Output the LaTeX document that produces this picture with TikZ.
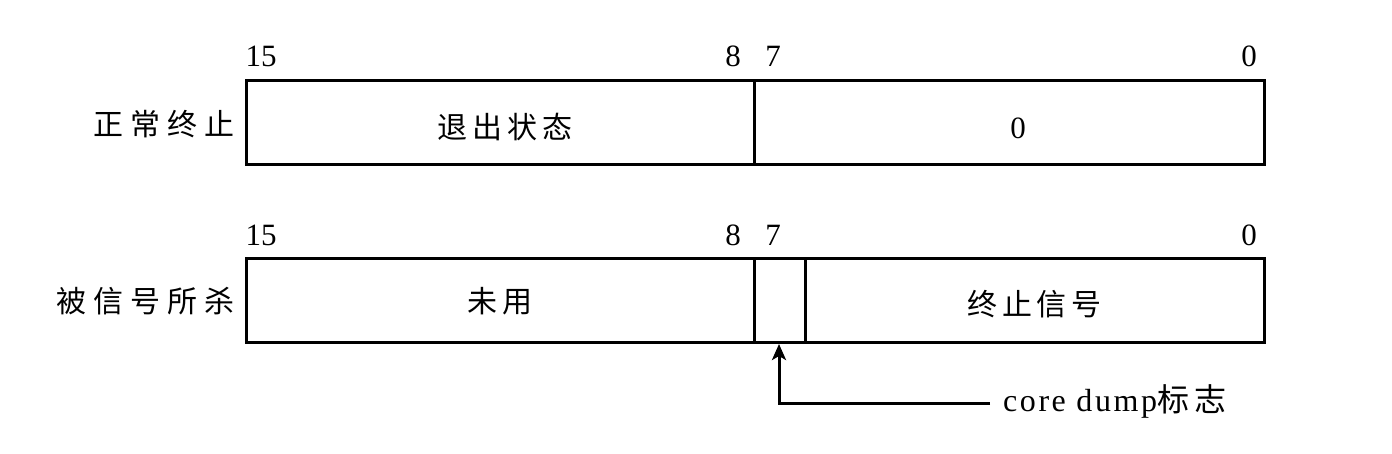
\documentclass[tikz,border=0pt]{standalone}
\usepackage{fontspec}
\setmainfont{Liberation Serif}
\newfontfamily\cjk[LetterSpace=16]{Noto Sans CJK SC}
\newfontfamily\cjkwide[LetterSpace=24]{Noto Sans CJK SC}
\newfontfamily\latwide[LetterSpace=8]{Liberation Serif}
\usetikzlibrary{arrows.meta}
\begin{document}
\begin{tikzpicture}[x=1pt,y=-1pt,
  field/.style={draw,line width=3pt,minimum height=84pt,inner sep=0pt,outer sep=0pt,anchor=north west},
  bitlabel/.style={font=\fontsize{31}{31}\selectfont,inner sep=0pt},
  rowlabel/.style={font=\cjkwide\fontsize{30}{30}\selectfont,inner sep=0pt,anchor=east},
  fieldtext/.style={font=\cjk\fontsize{30}{30}\selectfont,inner sep=0pt},
  conn/.style={line width=3pt}]
\useasboundingbox (0,0) rectangle (1392,453);
% top row
\node[field,minimum width=508pt] (exit) at (246,80) {};
\node[field,minimum width=510pt] (zero) at (754,80) {};
\node[fieldtext,yshift=-5pt,xshift=5pt] at (exit.center) {退出状态};
\node[bitlabel] at (1018,128) {0};
\node[rowlabel] (normal) at (235,124) {正常终止};
\node[bitlabel] (t15) at (261,56) {15};
\node[bitlabel] (t8) at (733,56) {8};
\node[bitlabel] (t7) at (773,56) {7};
\node[bitlabel] (t0) at (1249,56) {0};
% bottom row
\node[field,minimum width=508pt] (unused) at (246,258) {};
\node[field,minimum width=51pt] (core) at (754,258) {};
\node[field,minimum width=459pt] (sig) at (805,258) {};
\node[fieldtext,yshift=-1pt] at (unused.center) {未用};
\node[fieldtext,yshift=-4pt] at (sig.center) {终止信号};
\node[rowlabel] (killed) at (235,301) {被信号所杀};
\node[bitlabel] (b15) at (261,235) {15};
\node[bitlabel] (b8) at (733,235) {8};
\node[bitlabel] (b7) at (773,235) {7};
\node[bitlabel] (b0) at (1249,235) {0};
% core dump annotation
\node[font=\latwide\fontsize{32}{32}\selectfont,inner sep=0pt,anchor=west] (cd) at (1003,401) {core dump{\cjk 标志}};
\coordinate (corner) at (779,403);
\draw[conn,-{Stealth[length=16pt,width=14pt,inset=4pt]}] (990,403) -- (corner) -- (779,344);
\end{tikzpicture}
\end{document}
